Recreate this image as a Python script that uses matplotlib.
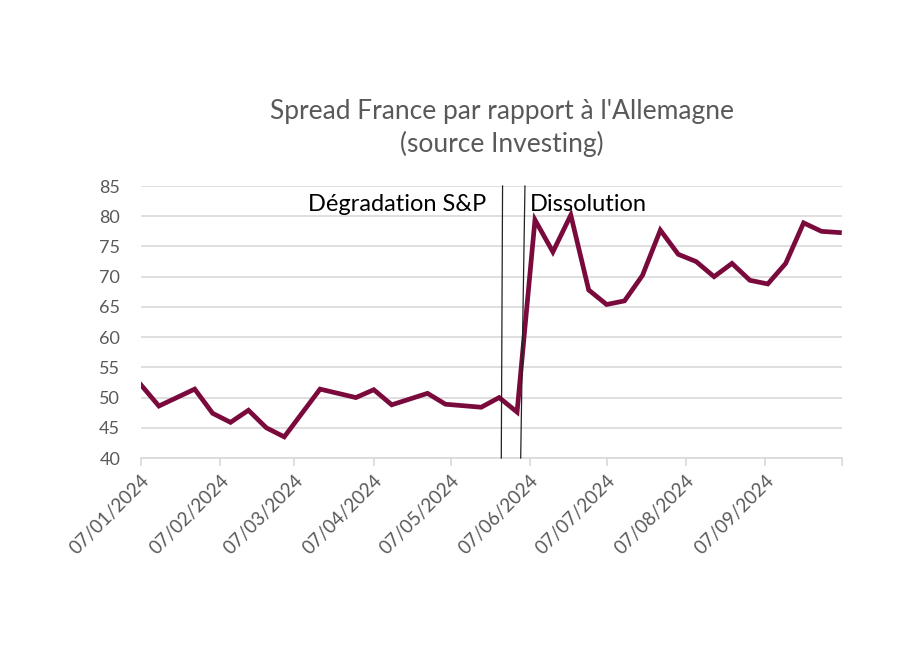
import matplotlib
matplotlib.use("Agg")
import matplotlib.pyplot as plt
import pandas as pd

# weekly spread readings (bp), vertices
DATES = [
  "2024-01-07", "2024-01-14", "2024-01-28", "2024-02-04", "2024-02-11",
  "2024-02-18", "2024-02-25", "2024-03-03", "2024-03-17", "2024-03-31",
  "2024-04-07", "2024-04-14", "2024-04-28", "2024-05-05", "2024-05-19",
  "2024-05-26", "2024-06-02", "2024-06-09", "2024-06-16", "2024-06-23",
  "2024-06-30", "2024-07-07", "2024-07-14", "2024-07-21", "2024-07-28",
  "2024-08-04", "2024-08-11", "2024-08-18", "2024-08-25", "2024-09-01",
  "2024-09-08", "2024-09-15", "2024-09-22", "2024-09-29", "2024-10-06",
]
SPREAD = [
  52.1, 48.6, 51.4, 47.4, 45.9,
  47.9, 45.0, 43.5, 51.4, 50.0,
  51.3, 48.8, 50.7, 48.9, 48.4,
  50.0, 47.6, 79.4, 74.1, 80.2,
  67.8, 65.4, 66.0, 70.2, 77.7,
  73.7, 72.5, 70.0, 72.2, 69.4,
  68.8, 72.2, 78.9, 77.5, 77.3,
]
TICK_DATES = ["2024-01-07", "2024-02-07", "2024-03-07", "2024-04-07", "2024-05-07",
              "2024-06-07", "2024-07-07", "2024-08-07", "2024-09-07", "2024-10-07"]
TICK_LABELS = ["07/01/2024", "07/02/2024", "07/03/2024", "07/04/2024", "07/05/2024",
               "07/06/2024", "07/07/2024", "07/08/2024", "07/09/2024", ""]
Y_TICKS = list(range(40, 90, 5))

TITLE = "Spread France par rapport à l'Allemagne\n(source Investing)"
EVENTS = [("Dégradation S&P", "2024-05-26 20:00", "2024-05-27 08:00"),
          ("Dissolution", "2024-06-03 10:00", "2024-06-05 02:00")]

GREY = "#595959"
GRID = "#D9D9D9"
LINE = "#7A0A3C"

plt.rcParams["font.family"] = ["Lato", "DejaVu Sans"]

fig = plt.figure(figsize=(9.19, 6.45), dpi=100)
ax = fig.add_axes([0.1534, 0.2899, 0.7628, 0.4217])

dates = pd.to_datetime(DATES)
ticks = pd.to_datetime(TICK_DATES)
ax.plot(dates, SPREAD, color=LINE, linewidth=3.4, solid_joinstyle="miter", zorder=3)

ax.set_ylim(40, 85)
ax.set_yticks(Y_TICKS)
ax.set_xlim(ticks[0], ticks[-1])
ax.set_xticks(ticks)
ax.set_xticklabels(TICK_LABELS, rotation=45, ha="right", va="top", rotation_mode="anchor")

ax.grid(axis="y", color=GRID, linewidth=1.2)
ax.set_axisbelow(True)
for side in ("top", "right", "left"):
  ax.spines[side].set_visible(False)
ax.spines["bottom"].set_color(GRID)
ax.spines["bottom"].set_linewidth(1.2)
ax.tick_params(axis="x", colors=GRID, length=6, width=1.2, labelcolor=GREY, labelsize=13.5, pad=4)
ax.tick_params(axis="y", length=0, labelcolor=GREY, labelsize=13, pad=15)

# event markers: slightly slanted hand-drawn lines as in the original
(name1, b1, t1), (name2, b2, t2) = EVENTS
ax.plot(pd.to_datetime([b1, t1]), [40, 85], color="#222222", linewidth=0.9, zorder=4, clip_on=False)
ax.plot(pd.to_datetime([b2, t2]), [40, 85], color="#222222", linewidth=0.9, zorder=4, clip_on=False)
ax.text(pd.to_datetime("2024-05-21"), 82.0, name1, ha="right", va="center", fontsize=17, color="black")
ax.text(pd.to_datetime("2024-06-07"), 82.0, name2, ha="left", va="center", fontsize=17, color="black")

fig.text(0.546, 0.802, TITLE, ha="center", va="center", fontsize=19, color=GREY, linespacing=1.33)

fig.savefig("out.png", dpi=100)
